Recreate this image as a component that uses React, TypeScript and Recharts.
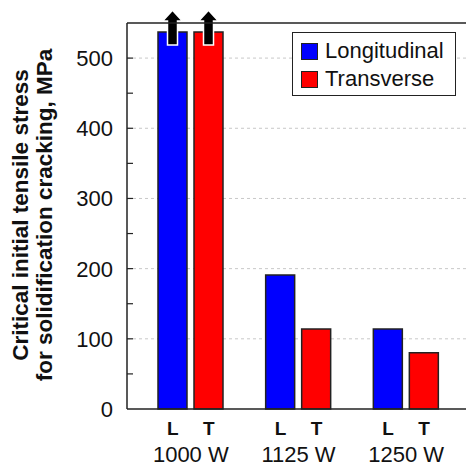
// critical stress bar chart

import React from 'react';
import {
  BarChart,
  Bar,
  XAxis,
  YAxis,
  CartesianGrid,
  ReferenceLine,
  Rectangle,
} from 'recharts';

const groups = ['1000 W', '1125 W', '1250 W'];
const longitudinal = [537, 191, 114];
const transverse = [537, 114, 80];
// bars whose real value runs off the top of the chart
const longitudinalOver = [true, false, false];
const transverseOver = [true, false, false];
const yTicks = [0, 50, 100, 150, 200, 250, 300, 350, 400, 450, 500];
const gridValues = [100, 200, 300, 400, 500];
const legendItems = [
  ['Longitudinal', '#0000ff'],
  ['Transverse', '#ff0000'],
];

const data = groups.map((g, i) => ({
  name: g,
  L: longitudinal[i],
  T: transverse[i],
  overL: longitudinalOver[i],
  overT: transverseOver[i],
}));

const font = 'Arial, "Liberation Sans", sans-serif';

const arrowBar = (flag: string) => (props: any) => {
  const { x, y, width, height, fill, payload } = props;
  const cx = x + width / 2;
  return (
    <g>
      <Rectangle x={x} y={y} width={width} height={height} fill={fill} stroke="#222" strokeWidth={1.5} />
      {payload && payload[flag] && (
        <polygon
          points={[
            [cx - 5, y + 13],
            [cx - 5, y - 11],
            [cx - 10, y - 11],
            [cx, y - 22],
            [cx + 10, y - 11],
            [cx + 5, y - 11],
            [cx + 5, y + 13],
          ]
            .map((p) => p.join(','))
            .join(' ')}
          fill="#000"
          stroke="#fff"
          strokeWidth={1.5}
        />
      )}
    </g>
  );
};

const YTick = (props: any) => {
  const { x, y, payload } = props;
  const major = payload.value % 100 === 0;
  return (
    <g>
      {payload.value !== 0 && <line x1={x} y1={y} x2={x + 6} y2={y} stroke="#222" strokeWidth={1.2} />}
      {major && (
        <text x={x - 14} y={y} dy="0.36em" textAnchor="end" fontSize={22} fontFamily={font} fill="#111">
          {payload.value}
        </text>
      )}
    </g>
  );
};

const XTick = (props: any) => {
  const { x, y, payload } = props;
  return (
    <g fontFamily={font} fill="#111">
      <text x={x - 18} y={y + 26} textAnchor="middle" fontSize={19} fontWeight="bold">L</text>
      <text x={x + 18} y={y + 26} textAnchor="middle" fontSize={19} fontWeight="bold">T</text>
      <text x={x} y={y + 53} textAnchor="middle" fontSize={22}>{payload.value}</text>
    </g>
  );
};

const YLabel = () => (
  <g fontFamily={font} fontWeight="bold" fontSize={22.5} fill="#111">
    <text x={28} y={215} transform="rotate(-90, 28, 215)" textAnchor="middle">
      Critical initial tensile stress
    </text>
    <text x={52} y={215} transform="rotate(-90, 52, 215)" textAnchor="middle">
      for solidification cracking, MPa
    </text>
  </g>
);

const LegendBox = () => (
  <div
    style={{
      position: 'absolute',
      left: 292,
      top: 32,
      border: '1.5px solid #222',
      background: '#fff',
      width: 162,
      height: 62,
      fontFamily: font,
      fontSize: 22,
      color: '#111',
    }}
  >
    {legendItems.map(([label, color], i) => (
      <div key={label} style={{ display: 'flex', alignItems: 'center', height: 28, marginTop: i === 0 ? 4 : 0 }}>
        <span
          style={{
            display: 'inline-block',
            width: 15,
            height: 15,
            marginLeft: 8,
            marginRight: 7,
            background: color,
            border: '1.5px solid #222',
          }}
        />
        <span>{label}</span>
      </div>
    ))}
  </div>
);

const App = () => {
  return (
    <div style={{ position: 'absolute', left: 0, top: 0, width: 466, height: 466, background: '#fff' }}>
      <BarChart
        width={466}
        height={466}
        data={data}
        margin={{ top: 23, right: 0, bottom: 0, left: 0 }}
        barSize={29}
        barGap={7}
      >
        <CartesianGrid
          vertical={false}
          horizontalValues={gridValues}
          stroke="#c8c8c8"
          strokeDasharray="3 3"
        />
        <XAxis
          dataKey="name"
          height={57}
          padding={{ left: 10, right: 6 }}
          tickSize={0}
          tickMargin={0}
          tickLine={false}
          axisLine={{ stroke: '#222', strokeWidth: 1.5 }}
          tick={<XTick />}
          interval={0}
        />
        <YAxis
          width={127}
          domain={[0, 550]}
          ticks={yTicks}
          tickSize={0}
          tickMargin={0}
          tickLine={false}
          axisLine={{ stroke: '#222', strokeWidth: 1.5 }}
          tick={<YTick />}
          interval={0}
          label={<YLabel />}
        />
        <ReferenceLine y={550} stroke="#222" strokeWidth={1.5} />
        <Bar dataKey="L" name="Longitudinal" fill="#0000ff" isAnimationActive={false} shape={arrowBar('overL')} />
        <Bar dataKey="T" name="Transverse" fill="#ff0000" isAnimationActive={false} shape={arrowBar('overT')} />
      </BarChart>
      <LegendBox />
    </div>
  );
};

export default App;
